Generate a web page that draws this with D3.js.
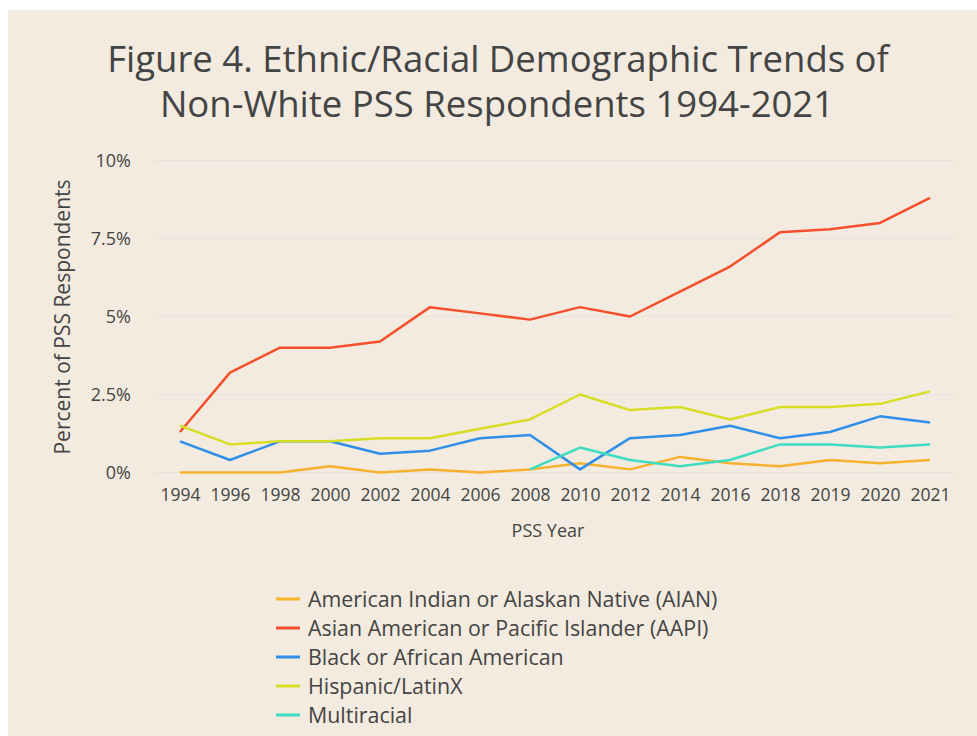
<!DOCTYPE html>
<html lang="en">
<head>
<meta charset="UTF-8">
<title>Figure 4</title>
<script src="https://d3js.org/d3.v7.min.js"></script>
<style>
  body { margin: 0; background: #fff; }
  text { font-family: "Open Sans", sans-serif; fill: #444; }
</style>
</head>
<body>
<script>
// years on the x axis (evenly spaced categories)
var years = ["1994","1996","1998","2000","2002","2004","2006","2008","2010","2012","2014","2016","2018","2019","2020","2021"];
var yTicks = [0, 2.5, 5, 7.5, 10];
var yTickLabels = ["0%", "2.5%", "5%", "7.5%", "10%"];

// percent of respondents
var aian  = [0, 0, 0, 0.2, 0, 0.1, 0, 0.1, 0.3, 0.1, 0.5, 0.3, 0.2, 0.4, 0.3, 0.4];
var aapi  = [1.3, 3.2, 4.0, 4.0, 4.2, 5.3, 5.1, 4.9, 5.3, 5.0, 5.8, 6.6, 7.7, 7.8, 8.0, 8.8];
var black = [1.0, 0.4, 1.0, 1.0, 0.6, 0.7, 1.1, 1.2, 0.1, 1.1, 1.2, 1.5, 1.1, 1.3, 1.8, 1.6];
var hisp  = [1.5, 0.9, 1.0, 1.0, 1.1, 1.1, 1.4, 1.7, 2.5, 2.0, 2.1, 1.7, 2.1, 2.1, 2.2, 2.6];
var multi = [null, null, null, null, null, null, null, 0.1, 0.8, 0.4, 0.2, 0.4, 0.9, 0.9, 0.8, 0.9];

var seriesNames = ["American Indian or Alaskan Native (AIAN)", "Asian American or Pacific Islander (AAPI)",
                   "Black or African American", "Hispanic/LatinX", "Multiracial"];
var seriesValues = [aian, aapi, black, hisp, multi];
var colors = ["#f7b12d", "#f5502b", "#2f8fe8", "#d5de24", "#3edcc0"];

var svg = d3.select("body").append("svg")
    .attr("width", 977)
    .attr("height", 736);

// beige panel (white strip at top and left like the screenshot)
svg.append("rect")
    .attr("x", 8).attr("y", 10)
    .attr("width", 969).attr("height", 726)
    .attr("fill", "#f3ebdf");

var x = d3.scalePoint().domain(years).range([180, 930]);
var y = d3.scaleLinear().domain([0, 10]).range([472.5, 160.5]);

// title
svg.append("text")
    .attr("x", 498).attr("y", 72)
    .attr("text-anchor", "middle")
    .style("font-size", "36.5px")
    .text("Figure 4. Ethnic/Racial Demographic Trends of");
svg.append("text")
    .attr("x", 497).attr("y", 117)
    .attr("text-anchor", "middle")
    .style("font-size", "36.5px")
    .text("Non-White PSS Respondents 1994-2021");

// gridlines
svg.append("g")
  .selectAll("line")
  .data(yTicks)
  .enter()
    .append("line")
    .attr("x1", 155).attr("x2", 955)
    .attr("y1", d => y(d)).attr("y2", d => y(d))
    .attr("stroke", "#e4e3e0")
    .attr("stroke-width", 1);

// y axis
var yAxis = svg.append("g")
    .attr("transform", "translate(140,0)")
    .call(d3.axisLeft(y).tickValues(yTicks).tickFormat((d, i) => yTickLabels[i]).tickSize(0).tickPadding(9));
yAxis.select(".domain").remove();
yAxis.selectAll("text").style("font-size", "18px").style("fill", "#444");

// x axis
var xAxis = svg.append("g")
    .attr("transform", "translate(0,487)")
    .call(d3.axisBottom(x).tickSize(0).tickPadding(2));
xAxis.select(".domain").remove();
xAxis.selectAll("text").style("font-size", "17.5px").style("fill", "#444");

// axis titles
svg.append("text")
    .attr("x", 548).attr("y", 537)
    .attr("text-anchor", "middle")
    .style("font-size", "18px")
    .text("PSS Year");
svg.append("text")
    .attr("transform", "translate(70,317) rotate(-90)")
    .attr("text-anchor", "middle")
    .style("font-size", "21px")
    .text("Percent of PSS Respondents");

// lines
var line = d3.line()
    .defined(d => d.v != null)
    .x(d => x(d.year))
    .y(d => y(d.v));

seriesValues.forEach(function(vals, i) {
  var pts = years.map((yr, j) => ({year: yr, v: vals[j]}));
  svg.append("path")
      .attr("d", line(pts))
      .attr("fill", "none")
      .attr("stroke", colors[i])
      .attr("stroke-width", 2.5)
      .attr("stroke-linejoin", "round");
});

// legend
var legend = svg.append("g").attr("transform", "translate(276,599)");
var rows = legend.selectAll("g")
  .data(seriesNames)
  .enter()
    .append("g")
    .attr("transform", (d, i) => "translate(0," + i * 29 + ")");
rows.append("line")
    .attr("x1", 0).attr("x2", 24)
    .attr("y1", 0).attr("y2", 0)
    .attr("stroke", (d, i) => colors[i])
    .attr("stroke-width", 3);
rows.append("text")
    .attr("x", 32).attr("y", 0)
    .attr("dy", "0.35em")
    .style("font-size", "21.4px")
    .text(d => d);
</script>
</body>
</html>
